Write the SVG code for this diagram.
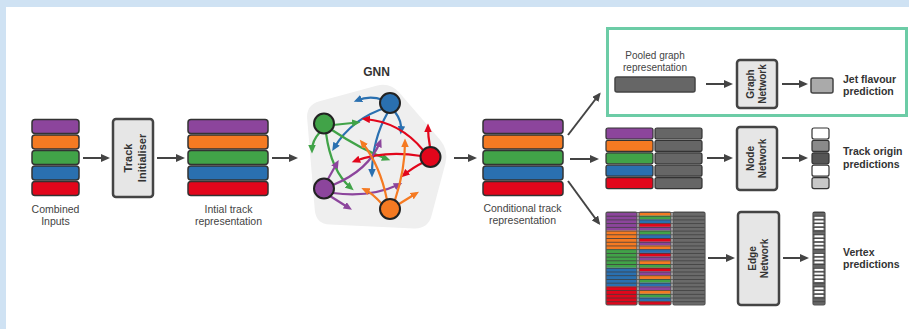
<svg xmlns="http://www.w3.org/2000/svg" width="909" height="329" viewBox="0 0 909 329">
  <style>
    .lbl { font-family: "Liberation Sans", Arial, sans-serif; font-size: 10.5px; fill: #444; text-anchor: middle; }
    .out { font-family: "Liberation Sans", Arial, sans-serif; font-size: 10.5px; font-weight: bold; fill: #333; }
    .boxt { font-family: "Liberation Sans", Arial, sans-serif; font-size: 10px; font-weight: bold; fill: #333; text-anchor: middle; }
    .title { font-family: "Liberation Sans", Arial, sans-serif; font-size: 12px; font-weight: bold; fill: #333; text-anchor: middle; }
    .row { stroke: #333; stroke-width: 1.5; }
    .srow { stroke: #333; stroke-width: 1.2; }
    .box { fill: #e6e6e6; stroke: #444; stroke-width: 2.5; }
    .conn { fill: none; stroke: #444; stroke-width: 2; marker-end: url(#ah); }
    .pu { fill: #8c459c; } .or { fill: #f57a22; } .gr { fill: #41a348; } .bl { fill: #2a70b0; } .re { fill: #e2061b; }
    .dk { fill: #666; }
    .e { fill: none; stroke-width: 2.2; }
    .eb { stroke: #2a70b0; marker-end: url(#mb); }
    .eg { stroke: #41a348; marker-end: url(#mg); }
    .er { stroke: #e2061b; marker-end: url(#mr); }
    .ep { stroke: #8c459c; marker-end: url(#mp); }
    .eo { stroke: #f57a22; marker-end: url(#mo); }
    .node { stroke: #222; stroke-width: 2; }
  </style>
  <defs>
    <marker id="ah" markerUnits="userSpaceOnUse" markerWidth="10" markerHeight="8" refX="7" refY="4" orient="auto">
      <path d="M0,0 L9,4 L0,8 z" fill="#444"/>
    </marker>
    <marker id="mb" markerUnits="userSpaceOnUse" markerWidth="9" markerHeight="8" refX="5" refY="3.75" orient="auto"><path d="M0,0 L8.5,3.75 L0,7.5 z" fill="#2a70b0"/></marker>
    <marker id="mg" markerUnits="userSpaceOnUse" markerWidth="9" markerHeight="8" refX="5" refY="3.75" orient="auto"><path d="M0,0 L8.5,3.75 L0,7.5 z" fill="#41a348"/></marker>
    <marker id="mr" markerUnits="userSpaceOnUse" markerWidth="9" markerHeight="8" refX="5" refY="3.75" orient="auto"><path d="M0,0 L8.5,3.75 L0,7.5 z" fill="#e2061b"/></marker>
    <marker id="mp" markerUnits="userSpaceOnUse" markerWidth="9" markerHeight="8" refX="5" refY="3.75" orient="auto"><path d="M0,0 L8.5,3.75 L0,7.5 z" fill="#8c459c"/></marker>
    <marker id="mo" markerUnits="userSpaceOnUse" markerWidth="9" markerHeight="8" refX="5" refY="3.75" orient="auto"><path d="M0,0 L8.5,3.75 L0,7.5 z" fill="#f57a22"/></marker>
    <!-- thin separators between the 25 pair rows -->
    <pattern id="stripes" patternUnits="userSpaceOnUse" x="0" y="212" width="40" height="3.72">
      <rect x="0" y="0" width="40" height="0.9" fill="#3c3c3c" opacity="0.85"/>
    </pattern>
  </defs>

  <!-- page -->
  <rect x="0" y="0" width="909" height="329" fill="#fff"/>
  <rect x="0" y="0" width="909" height="7" fill="#cfe2f3"/>
  <rect x="0" y="0" width="6" height="329" fill="#cfe2f3"/>

  <!-- global-output panel frame -->
  <rect x="607.5" y="28.5" width="299" height="87" fill="none" stroke="#6ccca6" stroke-width="3"/>

  <g id="combined-inputs">
    <rect class="row pu" x="32" y="119.5" width="47" height="14" rx="3"/>
    <rect class="row or" x="32" y="135" width="47" height="14" rx="3"/>
    <rect class="row gr" x="32" y="150.5" width="47" height="14" rx="3"/>
    <rect class="row bl" x="32" y="166" width="47" height="14" rx="3"/>
    <rect class="row re" x="32" y="181.5" width="47" height="14" rx="3"/>
    <text class="lbl" x="55.5" y="213">Combined</text>
    <text class="lbl" x="55.5" y="224.5">Inputs</text>
  </g>

  <g id="track-initialiser">
    <rect class="box" x="113" y="119" width="40" height="78" rx="3"/>
    <g transform="translate(133,158) rotate(-90)" style="font-size:11px">
      <text class="boxt" x="0" y="-1.5" style="font-size:11px">Track</text>
      <text class="boxt" x="0" y="12.5" style="font-size:11px">Initialiser</text>
    </g>
  </g>

  <g id="initial-track">
    <rect class="row pu" x="188" y="119.5" width="80" height="14" rx="3"/>
    <rect class="row or" x="188" y="135" width="80" height="14" rx="3"/>
    <rect class="row gr" x="188" y="150.5" width="80" height="14" rx="3"/>
    <rect class="row bl" x="188" y="166" width="80" height="14" rx="3"/>
    <rect class="row re" x="188" y="181.5" width="80" height="14" rx="3"/>
    <text class="lbl" x="228.5" y="213">Intial track</text>
    <text class="lbl" x="228.5" y="224.5">representation</text>
  </g>

  <g id="gnn">
    <text class="title" x="376.5" y="76">GNN</text>
    <path d="M319.5,101.3 L376.5,85.7 Q390,82 399.2,92.6 L439.8,139.4 Q449,150 445.4,163.5 L431.6,215.5 Q428,229 414,228.4 L330,224.6 Q316,224 314.8,210 L307.2,119 Q306,105 319.5,101.3 Z" fill="#efefef"/>
    <!-- messages from each track node -->
    <path class="e eb" d="M383,100 Q370,95 357,100.5"/>
    <path class="e eb" d="M388,107 Q352,118 334,148"/>
    <path class="e eb" d="M388,112 Q372,140 372,174"/>
    <path class="e eb" d="M395,112 Q402,121 401,131"/>

    <path class="e eg" d="M320,132 Q312,141 312,150"/>
    <path class="e eg" d="M333,125 L357,122.5"/>
    <path class="e eg" d="M332,130 Q362,150 387,159"/>
    <path class="e eg" d="M326,133 Q331,171 351,188"/>

    <path class="e er" d="M423,150 Q400,122 365,119"/>
    <path class="e er" d="M430,147 Q428,136 428,127"/>
    <path class="e er" d="M421,156 Q385,150 355,161"/>
    <path class="e er" d="M424,162 Q412,168 404,175"/>

    <path class="e ep" d="M330,196 L349,208"/>
    <path class="e ep" d="M333,193 Q370,198 399,184.5"/>
    <path class="e ep" d="M333,185 Q369,170 380,142"/>
    <path class="e ep" d="M328,179 L337,163"/>

    <path class="e eo" d="M387,200 Q380,165 362,142.5"/>
    <path class="e eo" d="M382,204 Q372,193 364.5,189.5"/>
    <path class="e eo" d="M395,200 Q405,170 405,142"/>
    <path class="e eo" d="M399,204 L416,193.5"/>

    <circle class="node bl" cx="390" cy="103" r="10"/>
    <circle class="node gr" cx="324" cy="123.5" r="10"/>
    <circle class="node re" cx="430.5" cy="157" r="10"/>
    <circle class="node pu" cx="324" cy="188.5" r="10"/>
    <circle class="node or" cx="390" cy="209" r="10"/>
  </g>

  <g id="conditional-track">
    <rect class="row pu" x="483" y="119.5" width="80" height="14" rx="3"/>
    <rect class="row or" x="483" y="135" width="80" height="14" rx="3"/>
    <rect class="row gr" x="483" y="150.5" width="80" height="14" rx="3"/>
    <rect class="row bl" x="483" y="166" width="80" height="14" rx="3"/>
    <rect class="row re" x="483" y="181.5" width="80" height="14" rx="3"/>
    <text class="lbl" x="522.5" y="212">Conditional track</text>
    <text class="lbl" x="522.5" y="223.5">representation</text>
  </g>

  <g id="pooled-graph">
    <text class="lbl" x="655" y="58.5" style="font-size:10px">Pooled graph</text>
    <text class="lbl" x="655" y="70.5" style="font-size:10px">representation</text>
    <rect x="615" y="77" width="80" height="15" rx="2" fill="#666" stroke="#444" stroke-width="1.5"/>
  </g>

  <g id="graph-network">
    <rect class="box" x="737" y="60" width="40" height="48" rx="3"/>
    <g transform="translate(757,84) rotate(-90)">
      <text class="boxt" x="0" y="-3">Graph</text>
      <text class="boxt" x="0" y="9">Network</text>
    </g>
  </g>

  <g id="jet-flavour">
    <rect x="811" y="78" width="22" height="15" rx="2" fill="#aaa" stroke="#444" stroke-width="1.5"/>
    <text class="out" x="843" y="82.5">Jet flavour</text>
    <text class="out" x="843" y="94.5">prediction</text>
  </g>

  <g id="node-inputs">
    <rect class="srow pu" x="606" y="128" width="47" height="11" rx="2"/>
    <rect class="srow or" x="606" y="140.4" width="47" height="11" rx="2"/>
    <rect class="srow gr" x="606" y="152.8" width="47" height="11" rx="2"/>
    <rect class="srow bl" x="606" y="165.2" width="47" height="11" rx="2"/>
    <rect class="srow re" x="606" y="177.6" width="47" height="11" rx="2"/>
    <rect class="srow dk" x="655" y="128" width="47" height="11" rx="2"/>
    <rect class="srow dk" x="655" y="140.4" width="47" height="11" rx="2"/>
    <rect class="srow dk" x="655" y="152.8" width="47" height="11" rx="2"/>
    <rect class="srow dk" x="655" y="165.2" width="47" height="11" rx="2"/>
    <rect class="srow dk" x="655" y="177.6" width="47" height="11" rx="2"/>
  </g>

  <g id="node-network">
    <rect class="box" x="737" y="127" width="40" height="63" rx="3"/>
    <g transform="translate(757,158.5) rotate(-90)">
      <text class="boxt" x="0" y="-3">Node</text>
      <text class="boxt" x="0" y="9">Network</text>
    </g>
  </g>

  <g id="track-origin">
    <rect class="srow" x="812" y="128" width="17" height="11" rx="2" fill="#fff"/>
    <rect class="srow" x="812" y="140.4" width="17" height="11" rx="2" fill="#8a8a8a"/>
    <rect class="srow" x="812" y="152.8" width="17" height="11" rx="2" fill="#555"/>
    <rect class="srow" x="812" y="165.2" width="17" height="11" rx="2" fill="#fff"/>
    <rect class="srow" x="812" y="177.6" width="17" height="11" rx="2" fill="#c8c8c8"/>
    <text class="out" x="843" y="155">Track origin</text>
    <text class="out" x="843" y="167.5">predictions</text>
  </g>

  <g id="edge-inputs">
    <!-- first track of each pair -->
    <rect class="pu" x="606" y="212" width="31" height="18.6"/>
    <rect class="or" x="606" y="230.6" width="31" height="18.6"/>
    <rect class="gr" x="606" y="249.2" width="31" height="18.6"/>
    <rect class="bl" x="606" y="267.8" width="31" height="18.6"/>
    <rect class="re" x="606" y="286.4" width="31" height="18.6"/>
    <!-- second track of each pair -->
    <rect class="or" x="639" y="212" width="32" height="3.72"/>
    <rect class="gr" x="639" y="215.72" width="32" height="3.72"/>
    <rect class="bl" x="639" y="219.44" width="32" height="3.72"/>
    <rect class="re" x="639" y="223.16" width="32" height="3.72"/>
    <rect class="pu" x="639" y="226.88" width="32" height="3.72"/>
    <rect class="gr" x="639" y="230.6" width="32" height="3.72"/>
    <rect class="bl" x="639" y="234.32" width="32" height="3.72"/>
    <rect class="re" x="639" y="238.04" width="32" height="3.72"/>
    <rect class="pu" x="639" y="241.76" width="32" height="3.72"/>
    <rect class="or" x="639" y="245.48" width="32" height="3.72"/>
    <rect class="bl" x="639" y="249.2" width="32" height="3.72"/>
    <rect class="re" x="639" y="252.92" width="32" height="3.72"/>
    <rect class="pu" x="639" y="256.64" width="32" height="3.72"/>
    <rect class="or" x="639" y="260.36" width="32" height="3.72"/>
    <rect class="gr" x="639" y="264.08" width="32" height="3.72"/>
    <rect class="re" x="639" y="267.8" width="32" height="3.72"/>
    <rect class="pu" x="639" y="271.52" width="32" height="3.72"/>
    <rect class="or" x="639" y="275.24" width="32" height="3.72"/>
    <rect class="gr" x="639" y="278.96" width="32" height="3.72"/>
    <rect class="bl" x="639" y="282.68" width="32" height="3.72"/>
    <rect class="pu" x="639" y="286.4" width="32" height="3.72"/>
    <rect class="or" x="639" y="290.12" width="32" height="3.72"/>
    <rect class="gr" x="639" y="293.84" width="32" height="3.72"/>
    <rect class="bl" x="639" y="297.56" width="32" height="3.72"/>
    <rect class="re" x="639" y="301.28" width="32" height="3.72"/>
    <!-- edge features -->
    <rect x="673" y="212" width="32" height="93" fill="#6a6a6a"/>
    <rect x="606" y="212" width="99" height="93" fill="url(#stripes)"/>
    <rect x="606" y="212" width="31" height="93" rx="1.5" fill="none" stroke="#555" stroke-width="1.2"/>
    <rect x="639" y="212" width="32" height="93" rx="1.5" fill="none" stroke="#555" stroke-width="1.2"/>
    <rect x="673" y="212" width="32" height="93" rx="1.5" fill="none" stroke="#555" stroke-width="1.2"/>
  </g>

  <g id="edge-network">
    <rect class="box" x="738" y="212" width="41" height="93" rx="3"/>
    <g transform="translate(758.5,258.5) rotate(-90)">
      <text class="boxt" x="0" y="-3">Edge</text>
      <text class="boxt" x="0" y="9">Network</text>
    </g>
  </g>

  <g id="vertex-predictions">
    <rect x="813" y="212" width="12" height="93" rx="1.5" fill="#666" stroke="#555" stroke-width="1.2"/>
    <g fill="#fff">
      <rect x="814.5" y="216.52" width="9" height="2.2"/>
      <rect x="814.5" y="220.24" width="9" height="2.2"/>
      <rect x="814.5" y="223.96" width="9" height="2.2"/>
      <rect x="814.5" y="227.68" width="9" height="2.2"/>
      <rect x="814.5" y="235.12" width="9" height="2.2"/>
      <rect x="814.5" y="238.84" width="9" height="2.2"/>
      <rect x="814.5" y="242.56" width="9" height="2.2"/>
      <rect x="814.5" y="246.28" width="9" height="2.2"/>
      <rect x="814.5" y="253.72" width="9" height="2.2"/>
      <rect x="814.5" y="257.44" width="9" height="2.2"/>
      <rect x="814.5" y="261.16" width="9" height="2.2"/>
      <rect x="814.5" y="268.6" width="9" height="2.2"/>
      <rect x="814.5" y="272.32" width="9" height="2.2"/>
      <rect x="814.5" y="276.04" width="9" height="2.2"/>
      <rect x="814.5" y="279.76" width="9" height="2.2"/>
      <rect x="814.5" y="287.2" width="9" height="2.2"/>
      <rect x="814.5" y="290.92" width="9" height="2.2"/>
      <rect x="814.5" y="294.64" width="9" height="2.2"/>
    </g>
    <rect x="813" y="212" width="12" height="93" fill="url(#stripes)"/>
    <text class="out" x="843" y="255.5">Vertex</text>
    <text class="out" x="843" y="268">predictions</text>
  </g>

  <g id="connectors">
    <path class="conn" d="M83,158 H108"/>
    <path class="conn" d="M157,158 H183"/>
    <path class="conn" d="M272,158 H296"/>
    <path class="conn" d="M454,158 H475"/>
    <path class="conn" d="M568,135 L599.5,94"/>
    <path class="conn" d="M570,159 H597"/>
    <path class="conn" d="M568,181 L599,223.5"/>
    <path class="conn" d="M706,84 H731"/>
    <path class="conn" d="M782,84 H806"/>
    <path class="conn" d="M707,158 H731"/>
    <path class="conn" d="M782,158 H806"/>
    <path class="conn" d="M708,258 H733"/>
    <path class="conn" d="M783,258 H807"/>
  </g>
</svg>
